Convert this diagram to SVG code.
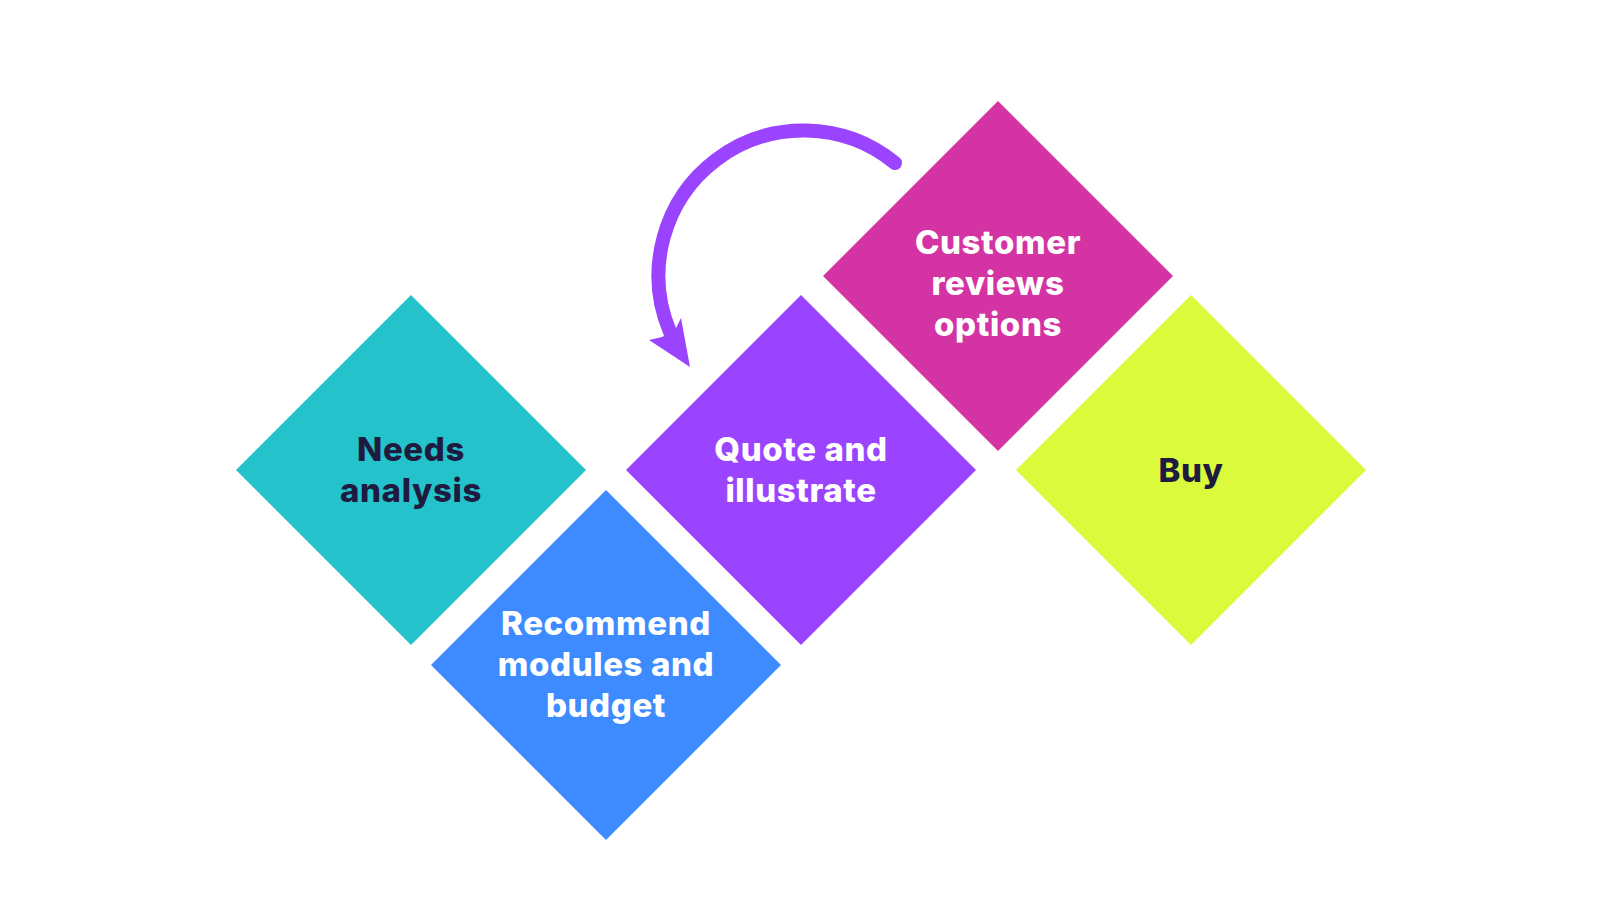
<svg xmlns="http://www.w3.org/2000/svg" width="1601" height="900" viewBox="0 0 1601 900">
<style>
.t{font-family:Inter,"Open Sans","Liberation Sans",sans-serif;font-weight:800;font-size:33px;letter-spacing:0.6px;text-anchor:middle}
.w{fill:#ffffff}
.d{fill:#1f1b40}
</style>
<rect width="1601" height="900" fill="#ffffff"/>
<g id="needs-analysis">
<polygon points="411,295 586,470 411,645 236,470" fill="#24c3cc"/>
<text class="t d" x="411" y="461">Needs</text>
<text class="t d" x="411" y="502">analysis</text>
</g>
<g id="recommend">
<polygon points="606,490 781,665 606,840 431,665" fill="#3d8bff"/>
<text class="t w" x="606" y="635">Recommend</text>
<text class="t w" x="606" y="676">modules and</text>
<text class="t w" x="606" y="717">budget</text>
</g>
<g id="quote">
<polygon points="801,295 976,470 801,645 626,470" fill="#9b44ff"/>
<text class="t w" x="801" y="461">Quote and</text>
<text class="t w" x="801" y="502">illustrate</text>
</g>
<g id="customer-reviews">
<polygon points="998,101 1173,276 998,451 823,276" fill="#d433a3"/>
<text class="t w" x="998" y="254">Customer</text>
<text class="t w" x="998" y="295">reviews</text>
<text class="t w" x="998" y="336">options</text>
</g>
<g id="buy">
<polygon points="1191,295 1366,470 1191,645 1016,470" fill="#dcfa3c"/>
<text class="t d" x="1191" y="482">Buy</text>
</g>
<g id="connectors">
<path d="M895,163 A145,145 0 0 0 670,332" fill="none" stroke="#9b44ff" stroke-width="14" stroke-linecap="round"/>
<polygon points="690,367 649,340 662,337 676,328 681,318" fill="#9b44ff"/>
</g>
</svg>
